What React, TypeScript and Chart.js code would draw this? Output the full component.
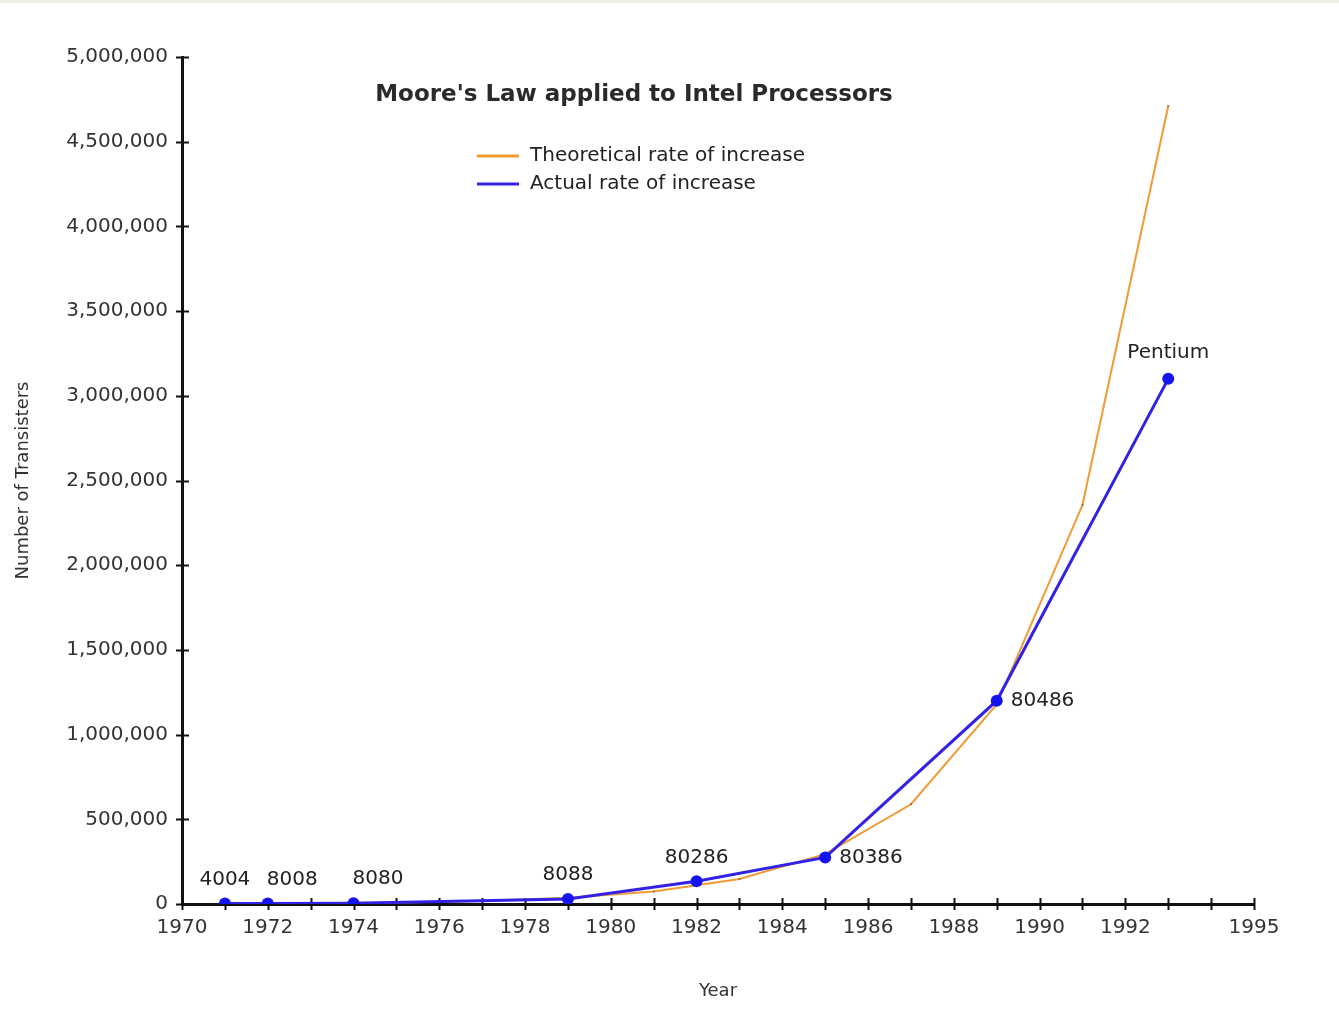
import React, { useEffect, useRef } from 'react';
import { Chart, registerables } from 'chart.js';

Chart.register(...registerables);

// ---- Data ----
const chartTitle = "Moore's Law applied to Intel Processors";
const seriesLabels = ['Theoretical rate of increase', 'Actual rate of increase'];
const xAxisTitle = 'Year';
const yAxisTitle = 'Number of Transisters';

const theoreticalYears = [1971, 1973, 1975, 1977, 1979, 1981, 1983, 1985, 1987, 1989, 1991, 1993];
const theoreticalValues = [2300, 4600, 9200, 18400, 36800, 73600, 147200, 294400, 588800, 1177600, 2355200, 4710400];

const actualYears = [1971, 1972, 1974, 1979, 1982, 1985, 1989, 1993];
const actualValues = [2300, 3500, 4500, 29000, 134000, 275000, 1200000, 3100000];
const processorNames = ['4004', '8008', '8080', '8088', '80286', '80386', '80486', 'Pentium'];

const labeledYears = [1970, 1972, 1974, 1976, 1978, 1980, 1982, 1984, 1986, 1988, 1990, 1992, 1995];

// placement of processor name relative to its point (style, not data)
const labelPlacement = ['above', 'aboveRight', 'aboveRight', 'above', 'above', 'right', 'right', 'above'];

const FONT = '"DejaVu Sans", Verdana, sans-serif';
const TEXT = '#222';
const ORANGE = '#f29a34';
const BLUE = '#3322e6';

const crossTicksPlugin = {
  id: 'crossTicks',
  beforeDatasetsDraw(chart: any) {
    const { ctx, chartArea } = chart;
    const xs = chart.scales.x;
    const ys = chart.scales.y;
    ctx.save();
    ctx.strokeStyle = '#111';
    ctx.lineWidth = 2;
    ctx.beginPath();
    xs.ticks.forEach((t: any) => {
      const px = Math.round(xs.getPixelForValue(t.value)) + 0.5;
      ctx.moveTo(px, chartArea.bottom - 6);
      ctx.lineTo(px, chartArea.bottom + 6);
    });
    ys.ticks.forEach((t: any) => {
      const py = Math.round(ys.getPixelForValue(t.value)) + 0.5;
      ctx.moveTo(chartArea.left - 6, py);
      ctx.lineTo(chartArea.left + 7, py);
    });
    ctx.stroke();
    ctx.restore();
  },
};

const overlayPlugin = {
  id: 'overlay',
  afterDraw(chart: any) {
    const { ctx } = chart;
    ctx.save();
    // title
    ctx.fillStyle = '#2a2a2a';
    ctx.font = `bold 23px ${FONT}`;
    ctx.textAlign = 'center';
    ctx.textBaseline = 'middle';
    ctx.fillText(chartTitle, 634, 95);
    // legend
    ctx.font = `20px ${FONT}`;
    ctx.textAlign = 'left';
    chart.data.datasets.forEach((ds: any, i: number) => {
      const y = 156 + i * 28;
      ctx.strokeStyle = ds.borderColor;
      ctx.lineWidth = 3;
      ctx.beginPath();
      ctx.moveTo(477, y);
      ctx.lineTo(519, y);
      ctx.stroke();
      ctx.fillStyle = TEXT;
      ctx.fillText(ds.label, 530, y);
    });
    // processor labels
    const meta = chart.getDatasetMeta(1);
    ctx.font = `20px ${FONT}`;
    ctx.fillStyle = TEXT;
    meta.data.forEach((pt: any, i: number) => {
      const place = labelPlacement[i];
      const name = processorNames[i];
      if (place === 'above') {
        ctx.textAlign = 'center';
        ctx.fillText(name, pt.x, pt.y - (name === 'Pentium' ? 26 : 24));
      } else if (place === 'aboveRight') {
        ctx.textAlign = 'left';
        ctx.fillText(name, pt.x - 1, pt.y - 24);
      } else {
        ctx.textAlign = 'left';
        ctx.fillText(name, pt.x + 14, pt.y);
      }
    });
    ctx.restore();
  },
};

export default function App() {
  const canvasRef = useRef<HTMLCanvasElement | null>(null);

  useEffect(() => {
    if (!canvasRef.current) return;
    const chart = new Chart(canvasRef.current, {
      type: 'line',
      data: {
        datasets: [
          {
            label: seriesLabels[0],
            data: theoreticalYears.map((x, i) => ({ x, y: theoreticalValues[i] })),
            borderColor: ORANGE,
            backgroundColor: ORANGE,
            borderWidth: 2,
            pointRadius: 1,
            pointBackgroundColor: '#8a6a44',
            pointBorderWidth: 0,
            tension: 0,
            order: 2,
          },
          {
            label: seriesLabels[1],
            data: actualYears.map((x, i) => ({ x, y: actualValues[i] })),
            borderColor: BLUE,
            backgroundColor: '#1414f0',
            borderWidth: 3,
            pointRadius: 6,
            pointBackgroundColor: '#1414f0',
            pointBorderColor: '#1414f0',
            pointBorderWidth: 0,
            tension: 0,
            order: 1,
          },
        ],
      },
      options: {
        animation: false,
        responsive: true,
        maintainAspectRatio: false,
        layout: { padding: { top: 57, right: 85, left: 0, bottom: 0 } },
        plugins: {
          legend: { display: false },
          title: { display: false },
          tooltip: { enabled: false },
        },
        scales: {
          x: {
            type: 'linear',
            min: 1970,
            max: 1995,
            afterFit: (s: any) => { s.height = 120; },
            border: { display: true, color: '#111', width: 3 },
            grid: { display: true, drawOnChartArea: false, drawTicks: false },
            ticks: {
              stepSize: 1,
              autoSkip: false,
              maxRotation: 0,
              padding: 12,
              color: '#333',
              font: { family: FONT, size: 20 },
              callback: (v: any) => (labeledYears.includes(Number(v)) ? String(v) : ''),
            },
            title: {
              display: true,
              text: xAxisTitle,
              color: '#333',
              font: { family: FONT, size: 18 },
              padding: { top: 0, bottom: 22 },
            },
          },
          y: {
            type: 'linear',
            min: 0,
            max: 5000000,
            afterFit: (s: any) => { s.width = 182; },
            border: { display: true, color: '#111', width: 3 },
            grid: { display: true, drawOnChartArea: false, drawTicks: false },
            ticks: {
              stepSize: 500000,
              padding: 14,
              color: '#333',
              font: { family: FONT, size: 20 },
              callback: (v: any) => Number(v).toLocaleString('en-US'),
            },
            title: {
              display: true,
              text: yAxisTitle,
              color: '#333',
              font: { family: FONT, size: 18 },
              padding: { top: 13, bottom: 0 },
            },
          },
        },
      },
      plugins: [crossTicksPlugin, overlayPlugin],
    });
    return () => chart.destroy();
  }, []);

  return (
    <div style={{ position: 'absolute', left: 0, top: 0, width: 1339, height: 1024, background: '#fff' }}>
      <div style={{ position: 'absolute', left: 0, top: 0, width: 1339, height: 3, background: '#edf1df' }} />
      <canvas ref={canvasRef} />
    </div>
  );
}
